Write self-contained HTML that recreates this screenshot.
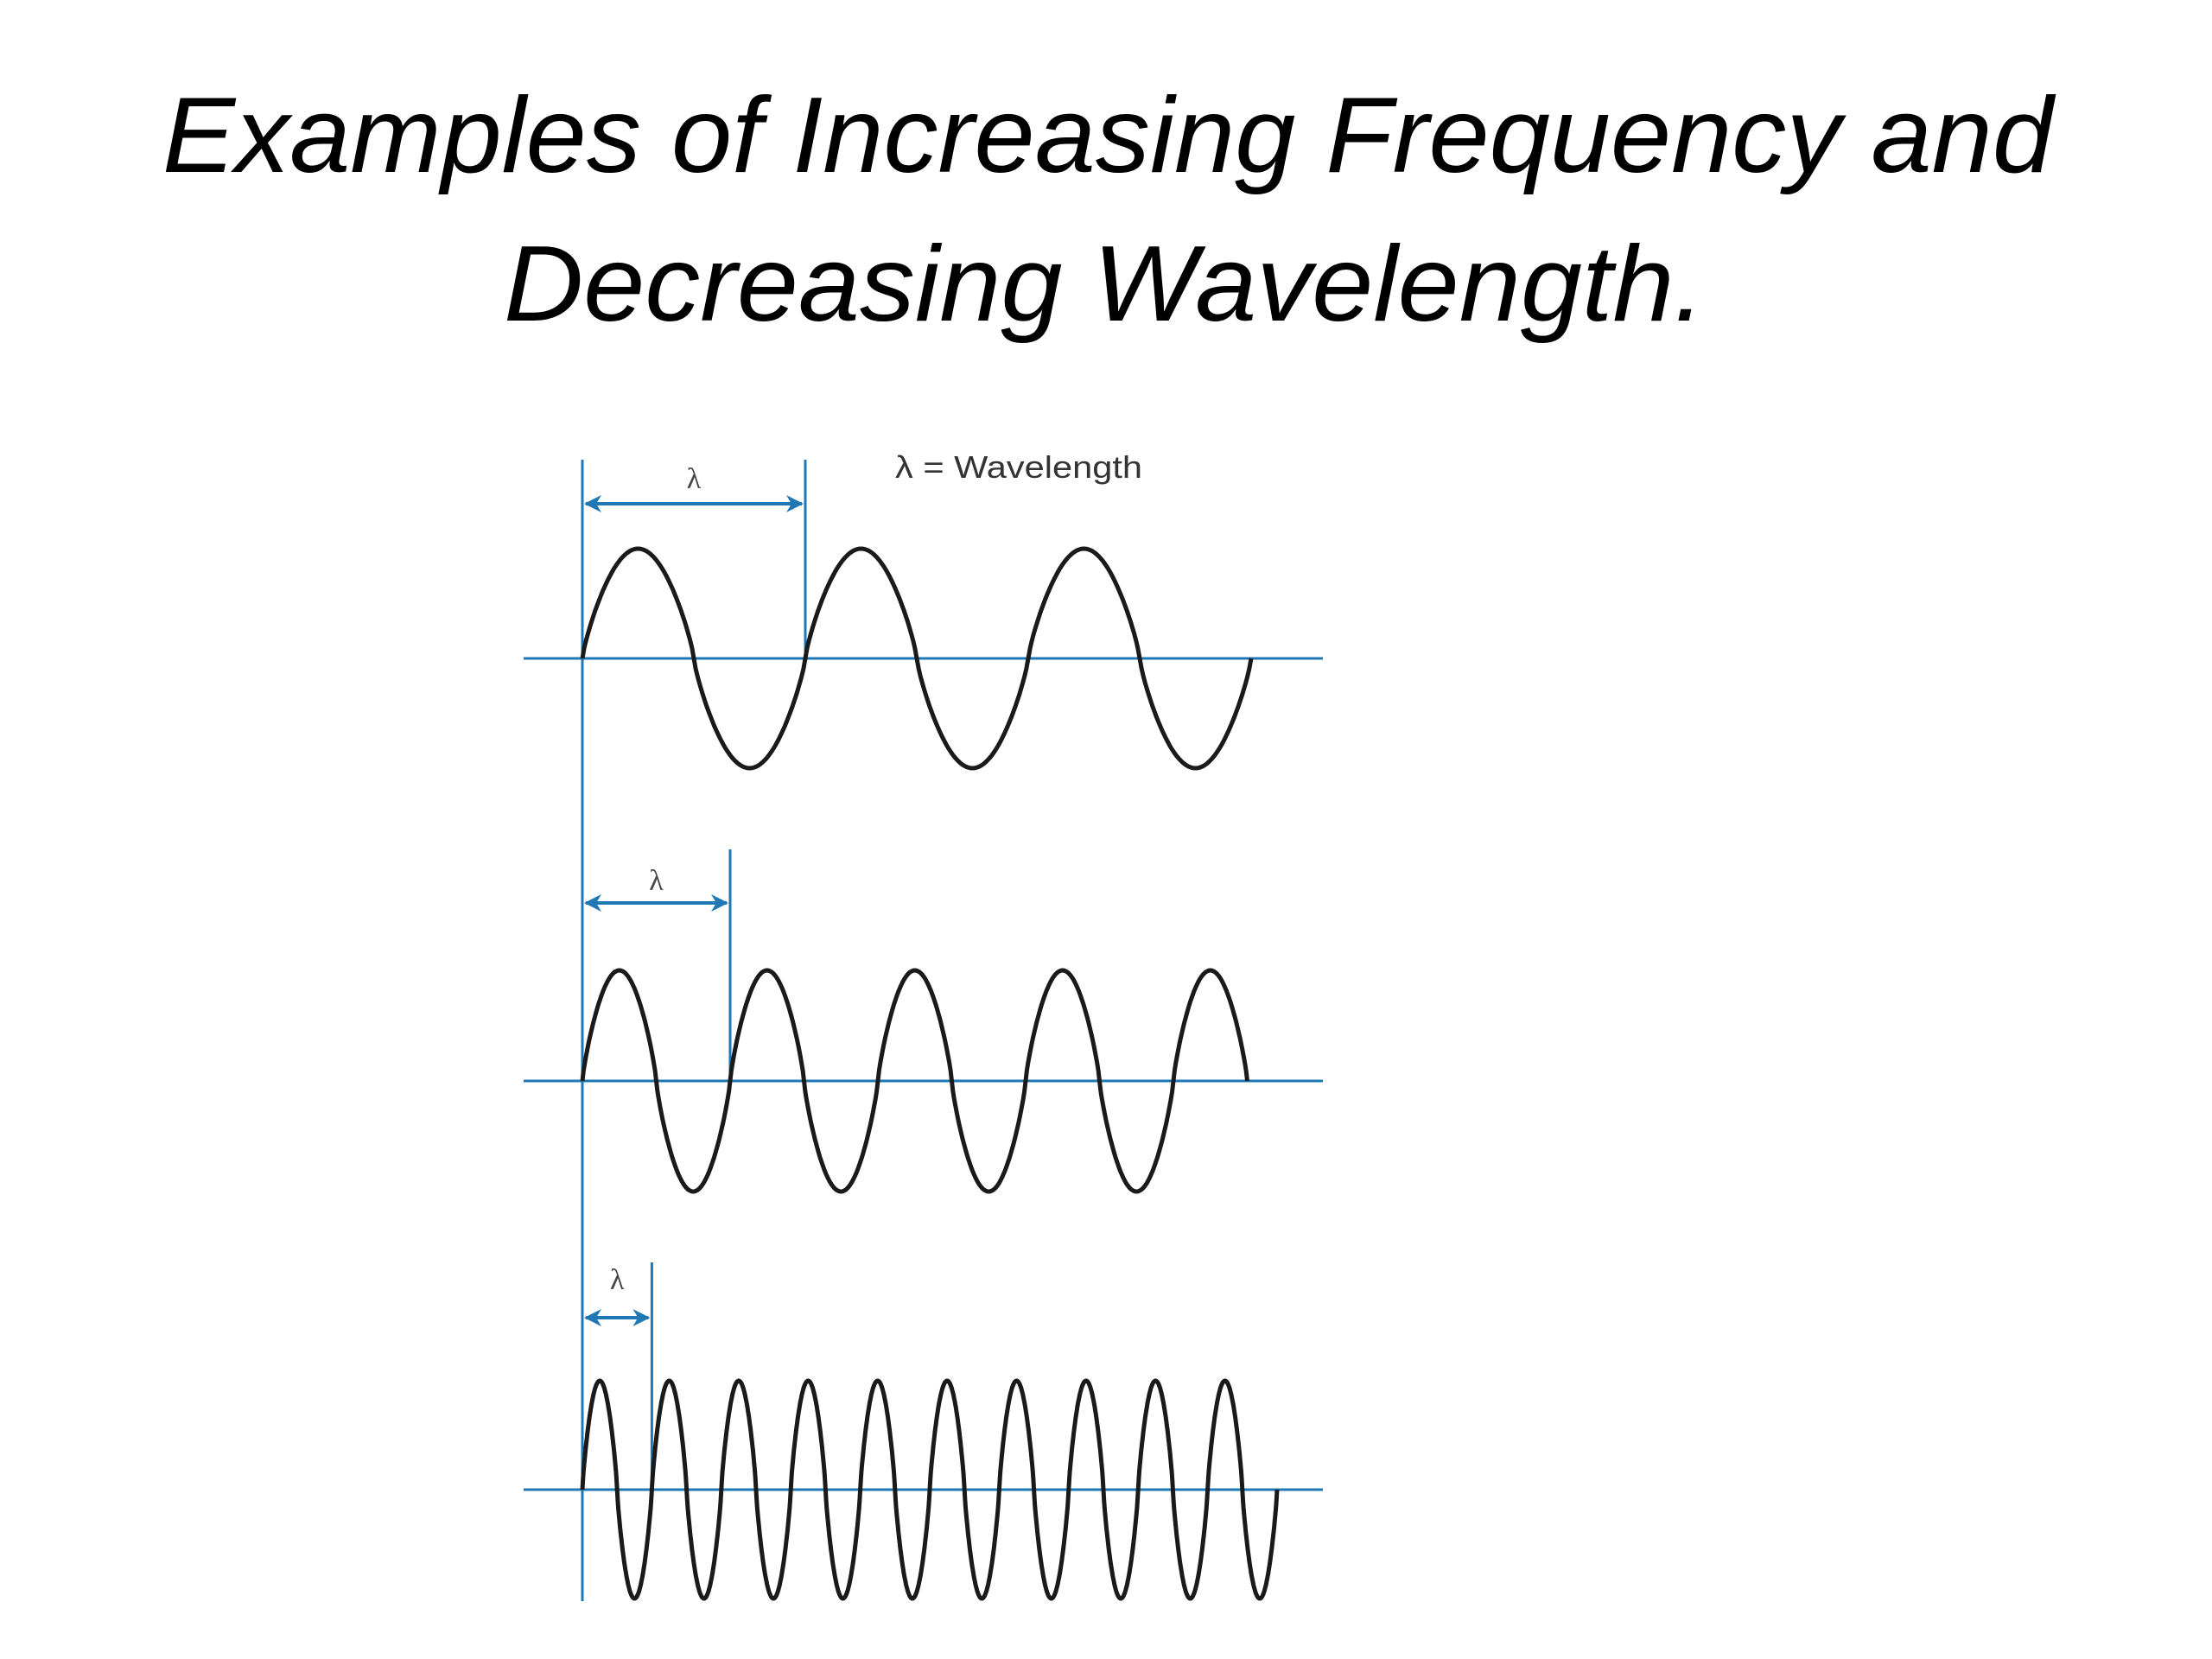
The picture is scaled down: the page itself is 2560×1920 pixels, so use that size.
<!DOCTYPE html>
<html><head><meta charset="utf-8"><style>
html,body{margin:0;padding:0;background:#fff;}
svg{display:block;}
</style></head><body>
<svg id="chart" width="2560" height="1920" viewBox="0 0 2560 1920" xmlns="http://www.w3.org/2000/svg">
<defs>
<marker id="ah" viewBox="0 0 10 10" refX="9" refY="5" markerWidth="5" markerHeight="5" orient="auto-start-reverse"><path d="M0,0 L10,5 L0,10 L3,5 z" fill="#1f78b4"/></marker>
</defs>
<text x="188" y="199" font-family="Liberation Sans, sans-serif" font-style="italic" font-size="124" textLength="2188" lengthAdjust="spacingAndGlyphs" fill="#000">Examples of Increasing Frequency and</text>
<text x="583" y="371" font-family="Liberation Sans, sans-serif" font-style="italic" font-size="124" textLength="1390" lengthAdjust="spacingAndGlyphs" fill="#000">Decreasing Wavelength.</text>
<text x="1036" y="553" font-family="Liberation Sans, sans-serif" font-size="36" fill="#333" textLength="286" lengthAdjust="spacingAndGlyphs">λ = Wavelength</text>
<line x1="674" y1="532" x2="674" y2="1853" stroke="#1f78b4" stroke-width="3"/>
<g id="waves"></g>
</svg>
<script>
// data
const waveNames = ["low-frequency", "medium-frequency", "high-frequency"];
const cycles = [3, 4.5, 10];
const wavelengths = [258, 171, 80.4];
const amplitudes = [127, 128, 126];
const lambdaLabels = ["λ", "λ", "λ"];

// layout
const x0 = 674;
const axisY = [762, 1251, 1724];
const markTop = [532, 983, 1461];
const arrowY = [583, 1045, 1525];
const labelY = [565, 1030, 1492];
const NS = "http://www.w3.org/2000/svg";
const g = document.getElementById("waves");
function el(tag, attrs) { const e = document.createElementNS(NS, tag); for (const k in attrs) e.setAttribute(k, attrs[k]); g.appendChild(e); return e; }
const xScale = (i, t) => x0 + t * wavelengths[i];
const yScale = (i, v) => axisY[i] - v * amplitudes[i];

for (let i = 0; i < cycles.length; i++) {
  const ax = el("line", {x1: 606, y1: axisY[i], x2: 1531, y2: axisY[i], stroke: "#1f78b4", "stroke-width": 3});
  
  
  const x1 = xScale(i, 1);
  const vl = el("line", {x1: x1, y1: markTop[i], x2: x1, y2: axisY[i], stroke: "#1f78b4", "stroke-width": 3});
  
  
  const ar = el("line", {x1: x0 + 4, y1: arrowY[i], x2: x1 - 4, y2: arrowY[i], stroke: "#1f78b4", "stroke-width": 4, "marker-start": "url(#ah)", "marker-end": "url(#ah)"});
  
  
  const lb = el("text", {x: (x0 + x1) / 2, y: labelY[i], "text-anchor": "middle", "font-family": "Liberation Serif, serif", "font-size": 34, fill: "#444"});
  lb.textContent = lambdaLabels[i];
  
  
  const n = Math.ceil(cycles[i] * 120);
  let d = "";
  for (let k = 0; k <= n; k++) {
    const t = cycles[i] * k / n;
    const s = Math.sin(2 * Math.PI * t);
    const v = Math.sign(s) * Math.pow(Math.abs(s), 0.8);
    d += (k ? "L" : "M") + xScale(i, t).toFixed(1) + "," + yScale(i, v).toFixed(1);
  }
  const p = el("path", {d: d, fill: "none", stroke: "#1a1a1a", "stroke-width": 5, "stroke-linejoin": "round"});
  
  
}
</script>
</body></html>
